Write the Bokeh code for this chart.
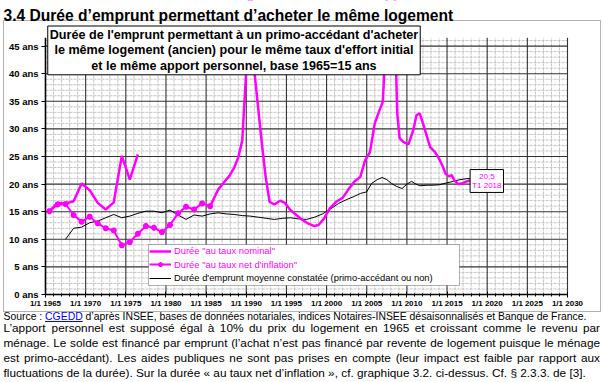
from bokeh.plotting import figure
from bokeh.models import (FixedTicker, Label, BoxAnnotation, Legend, LegendItem,
                          Range1d, ColumnDataSource)
from bokeh.embed import file_html
from bokeh.resources import INLINE

NAN = float("nan")

# ---------------- data (decimal years, durations in years) ----------------
nominal_years = [1965.5, 1966.5, 1967.5, 1968.5, 1969.5, 1970.5, 1971.5, 1972.5,
                 1973.5, 1974.5, 1975.5, 1976.5, 1981.0,
                 1985.5, 1986.5, 1987.2, 1987.9, 1988.5, 1989.0, 1989.5, 1990.0,
                 1990.5, 1991.0, 1991.9, 1992.4, 1992.9, 1993.5, 1994.2, 1994.8,
                 1995.5, 1996.3, 1997.0, 1997.8, 1998.5, 1999.0, 1999.7, 2000.4,
                 2001.2, 2002.0, 2002.7, 2003.5, 2004.2, 2004.8, 2005.4, 2006.0,
                 2006.6, 2007.0, 2007.2, 2007.6, 2008.4, 2008.66, 2008.8, 2009.1,
                 2009.6, 2010.2, 2010.8, 2011.2, 2011.6, 2012.0, 2012.5, 2012.9,
                 2013.5, 2013.9, 2014.5, 2014.8, 2015.2, 2015.6, 2015.9, 2016.4,
                 2016.8, 2017.3, 2017.7, 2018.1]
nominal_values = [15.1, 16.6, 16.5, 16.9, 20.1, 18.9, 16.6, 15.4,
                  16.7, 25.1, 20.8, 25.4, NAN,
                  16.0, 19.0, 20.3, 21.5, 23.0, 24.8, 27.9, 40.6,
                  60.0, 40.6, 27.9, 21.5, 16.8, 16.3, 17.0, 16.6,
                  15.3, 14.3, 13.5, 12.8, 12.4, 12.6, 13.8, 15.6,
                  16.8, 17.5, 19.0, 20.5, 21.3, 24.3, 25.8, 31.0,
                  33.4, 34.9, 40.6, 60.0, 60.0, 40.6, 32.8, 28.3,
                  27.6, 27.2, 29.8, 32.5, 32.8, 31.0, 28.6, 26.7,
                  25.8, 24.9, 23.1, 21.9, 21.4, 21.6, 20.7, 20.0,
                  20.1, 20.4, 20.6, 20.5]

net_years = [1965.5, 1966.5, 1967.5, 1968.5, 1969.5, 1970.5, 1971.5, 1972.5,
             1973.5, 1974.5, 1975.5, 1976.5, 1977.5, 1978.5, 1979.5, 1980.5,
             1981.5, 1982.5, 1983.5, 1984.5, 1985.5]
net_values = [15.1, 16.3, 16.4, 14.4, 13.2, 14.1, 12.9, 12.0,
              11.6, 8.9, 9.5, 11.0, 12.4, 12.1, 11.3, 12.6,
              14.7, 15.9, 15.4, 16.5, 16.0]

avg_years = [1967.5, 1968.5, 1969.5, 1970.5, 1971.5, 1972.5, 1973.5, 1974.5,
             1975.5, 1976.5, 1977.5, 1978.5, 1979.5, 1980.5, 1981.5, 1982.5,
             1983.5, 1984.5, 1985.5, 1986.5, 1987.5, 1988.5, 1989.5, 1990.5,
             1991.5, 1992.5, 1993.5, 1994.5, 1995.5, 1996.5, 1997.5, 1998.5,
             1999.5, 2000.5, 2001.5, 2002.5, 2003.5, 2004.2, 2005.0, 2005.6,
             2006.3, 2006.9, 2007.5, 2008.1, 2008.7, 2009.4, 2010.0, 2010.6,
             2011.0, 2011.6, 2012.5, 2013.3, 2014.1, 2014.9, 2015.8, 2016.6,
             2017.5, 2018.0]
avg_values = [10.0, 12.0, 12.2, 13.0, 13.3, 13.9, 14.5, 13.9,
              14.2, 14.7, 15.1, 15.1, 14.8, 15.3, 14.4, 13.6,
              14.4, 14.2, 14.6, 14.8, 14.6, 14.5, 14.3, 14.2,
              14.0, 13.8, 13.6, 13.8, 13.9, 13.7, 13.6, 14.0,
              14.6, 15.5, 16.5, 17.2, 17.8, 18.3, 18.6, 20.1,
              20.8, 21.2, 20.8, 20.1, 19.6, 19.2, 20.0, 20.5,
              20.1, 19.7, 19.8, 19.8, 19.9, 20.2, 20.5, 20.8,
              21.0, 21.0]

x_tick_years = [1965, 1970, 1975, 1980, 1985, 1990, 1995, 2000, 2005, 2010,
                2015, 2020, 2025, 2030]
x_tick_labels = ["1/1 1965", "1/1 1970", "1/1 1975", "1/1 1980", "1/1 1985",
                 "1/1 1990", "1/1 1995", "1/1 2000", "1/1 2005", "1/1 2010",
                 "1/1 2015", "1/1 2020", "1/1 2025", "1/1 2030"]
y_tick_values = [0, 5, 10, 15, 20, 25, 30, 35, 40, 45]
y_tick_labels = ["0 ans", "5 ans", "10 ans", "15 ans", "20 ans", "25 ans",
                 "30 ans", "35 ans", "40 ans", "45 ans"]
series_names = ['Durée "au taux nominal"', 'Durée "au taux net d\'inflation"',
                "Durée d'emprunt moyenne constatée (primo-accédant ou non)"]
last_value_text = "20,5\nT1 2018"

# ---------------- layout constants (page pixels) ----------------
W, H = 604, 382
FL, FT, FR, FB = 45, 37, 567, 294          # plot-area edges on the page
X_MIN, X_MAX = 1965, 2030
PX_PER_YEAR = (FR - FL) / (X_MAX - X_MIN)
PX_PER_UNIT = 5.52
Y_TOP = (FB - FT) / PX_PER_UNIT
MAGENTA = "#FF00FF"
FONT = "Liberation Sans"


def sy(py):
    """page y (down) -> screen y measured from canvas bottom"""
    return H - py


p = figure(width=W, height=H, output_backend="svg", toolbar_location=None,
           title=None,
           x_range=Range1d(X_MIN - FL / PX_PER_YEAR, X_MAX + (W - FR) / PX_PER_YEAR),
           y_range=Range1d(-(H - FB) / PX_PER_UNIT, FB / PX_PER_UNIT),
           min_border=0, min_border_left=0, min_border_right=0,
           min_border_top=0, min_border_bottom=0)
p.outline_line_color = None
p.background_fill_color = "white"
p.border_fill_color = "white"
p.xgrid.visible = False
p.ygrid.visible = False

# ---------------- grid (drawn only over the plot area) ----------------
minor_x = [y for y in range(X_MIN + 1, X_MAX) if y % 5]
major_x = [y for y in x_tick_years if y > X_MIN]
minor_y = [v for v in range(1, int(Y_TOP) + 1) if v % 5]
major_y = [v for v in y_tick_values if v > 0]
p.segment(x0=minor_x, y0=[0] * len(minor_x), x1=minor_x, y1=[Y_TOP] * len(minor_x),
          line_color="#c4c4c4", line_width=1, line_dash="3 1", level="underlay")
p.segment(x0=[X_MIN] * len(minor_y), y0=minor_y, x1=[X_MAX] * len(minor_y), y1=minor_y,
          line_color="#c4c4c4", line_width=1, line_dash="3 1", level="underlay")
p.segment(x0=major_x, y0=[0] * len(major_x), x1=major_x, y1=[Y_TOP] * len(major_x),
          line_color="#333333", line_width=1.1, level="underlay")
p.segment(x0=[X_MIN] * len(major_y), y0=major_y, x1=[X_MAX] * len(major_y), y1=major_y,
          line_color="#333333", line_width=1.1, level="underlay")

# ---------------- axes (fixed inside the canvas) ----------------
xa = p.xaxis[0]
ya = p.yaxis[0]
xa.fixed_location = 0
ya.fixed_location = X_MIN
xa.bounds = (X_MIN, X_MAX)
ya.bounds = (0, Y_TOP)
xa.ticker = FixedTicker(ticks=x_tick_years, minor_ticks=list(range(X_MIN, X_MAX + 1)))
ya.ticker = FixedTicker(ticks=y_tick_values, minor_ticks=[])
xa.major_label_overrides = dict(zip(x_tick_years, x_tick_labels))
ya.major_label_overrides = dict(zip(y_tick_values, y_tick_labels))
for ax in (xa, ya):
    ax.axis_line_color = "black"
    ax.axis_line_width = 1.6
    ax.major_tick_line_color = "black"
    ax.major_label_text_font = FONT
    ax.major_label_text_font_style = "bold"
    ax.major_label_text_color = "black"
xa.major_tick_in = 3
xa.major_tick_out = 3
xa.minor_tick_in = 1
xa.minor_tick_out = 2
xa.minor_tick_line_color = "black"
xa.major_label_text_font_size = "8px"
xa.major_label_standoff = 1
ya.major_tick_in = 0
ya.major_tick_out = 4
ya.minor_tick_line_color = None
ya.major_label_text_font_size = "9.5px"
ya.major_label_standoff = 3

# ---------------- series ----------------
r_avg = p.line(avg_years, avg_values, line_color="black", line_width=1)
r_nom = p.line(source=ColumnDataSource(dict(x=nominal_years, y=nominal_values)),
               x="x", y="y", line_color=MAGENTA, line_width=2.5)
r_net = p.line(net_years, net_values, line_color=MAGENTA, line_width=2)
r_net_pts = p.scatter(net_years, net_values, marker="asterisk", size=6,
                      line_color=MAGENTA, line_width=2)


def screen_box(left, right, top, bottom, **kw):
    return BoxAnnotation(left=left, right=right, top=sy(top), bottom=sy(bottom),
                         left_units="screen", right_units="screen",
                         top_units="screen", bottom_units="screen", **kw)


# white band above the plot area (hides whatever rises above the top of the scale)
p.add_layout(screen_box(0, W, 0, FT, fill_color="white", fill_alpha=1, line_color=None))

# ---------------- legend ----------------
p.add_layout(screen_box(148, 459, 244, 285, fill_color="white", fill_alpha=1,
                        line_color="black", line_width=1))
legend_specs = [([r_nom], series_names[0], MAGENTA, 250.7),
                ([r_net, r_net_pts], series_names[1], MAGENTA, 264.3),
                ([r_avg], series_names[2], "black", 277.7)]
for rends, name, col, cy in legend_specs:
    lg = Legend(items=[LegendItem(label=name, renderers=rends)],
                location=(149, sy(cy + 6)),
                border_line_color=None, background_fill_alpha=0,
                padding=0, spacing=0, margin=0,
                glyph_width=22, glyph_height=12, label_height=12,
                label_standoff=3, label_text_font=FONT,
                label_text_font_size="9.4px", label_text_color=col)
    p.add_layout(lg, "center")

# ---------------- last value call-out ----------------
p.add_layout(Label(x=486.3, y=sy(180.5), x_units="screen", y_units="screen",
                   text=last_value_text, text_align="center", text_baseline="middle",
                   text_font=FONT, text_font_size="8px", text_color=MAGENTA,
                   text_line_height=1.1, background_fill_color="white",
                   border_line_color="black", border_line_width=1, padding=2))

# ---------------- outer chart frame ----------------
p.add_layout(screen_box(3, 600, 20, 311, fill_alpha=0, line_color="black", line_width=1))

# ---------------- chart title box ----------------
p.add_layout(Label(x=233.5, y=sy(25.5), x_units="screen", y_units="screen",
                   text="Durée de l'emprunt permettant à un primo-accédant d'acheter\n"
                        "le même logement (ancien) pour le même taux d'effort initial\n"
                        "et le même apport personnel, base 1965=15 ans",
                   text_align="center", text_baseline="top",
                   text_font=FONT, text_font_style="bold", text_font_size="12.6px",
                   text_line_height=1.1, text_color="black",
                   background_fill_color="white", border_line_color="black",
                   border_line_width=1, padding=2))

# ---------------- page title ----------------
p.add_layout(Label(x=3, y=sy(14.5), x_units="screen", y_units="screen",
                   text="3.4 Durée d’emprunt permettant d’acheter le même logement",
                   text_align="left", text_baseline="alphabetic",
                   text_font=FONT, text_font_style="bold", text_font_size="15.6px",
                   text_color="black"))

# ---------------- footer ----------------
ARIAL = {" ": 278, "!": 278, '"': 355, "%": 889, "'": 191, "(": 333, ")": 333,
         ",": 278, "-": 333, ".": 278, "/": 278, ":": 278, ";": 278, "=": 584,
         "[": 278, "]": 278, "§": 556, "«": 556, "»": 556, "’": 222,
         "A": 667, "B": 667, "C": 722, "D": 722, "E": 667, "F": 611, "G": 778,
         "H": 722, "I": 278, "J": 500, "K": 667, "L": 556, "M": 833, "N": 722,
         "O": 778, "P": 667, "Q": 778, "R": 722, "S": 667, "T": 611, "U": 722,
         "V": 667, "W": 944, "X": 667, "Y": 667, "Z": 611,
         "c": 500, "f": 278, "i": 222, "j": 222, "k": 500, "l": 222, "m": 833,
         "r": 333, "s": 500, "t": 278, "v": 500, "w": 722, "x": 500, "y": 500,
         "z": 500, "ç": 500}


def tw(s, size):
    return sum(ARIAL.get(c, 556) for c in s) * size / 1000.0


def add_text(txt, px, py, size, color="black", align="left"):
    p.add_layout(Label(x=px, y=sy(py), x_units="screen", y_units="screen",
                       text=txt, text_align=align, text_baseline="middle",
                       text_font=FONT, text_font_size="%gpx" % size,
                       text_color=color))


X0, X1 = 3, 599.5
SRC = 10.4
part1 = "Source :"
part2 = "CGEDD"
part3 = "d’après INSEE, bases de données notariales, indices Notaires-INSEE désaisonnalisés et Banque de France."
x2 = X0 + tw(part1 + " ", SRC)
x3 = x2 + tw(part2 + " ", SRC)
add_text(part1, X0, 316, SRC)
add_text(part2, x2, 316, SRC, color="#0000FF")
add_text(part3, x3, 316, SRC)
p.add_layout(screen_box(x2, x2 + tw(part2, SRC), 320.6, 321.5,
                        fill_color="#0000FF", fill_alpha=1, line_color=None))

BODY = 11.8
body_lines = [
    "L’apport personnel est supposé égal à 10% du prix du logement en 1965 et croissant comme le revenu par",
    "ménage.  Le solde est financé par emprunt (l’achat n’est pas financé par revente de logement puisque le ménage",
    "est primo-accédant).  Les aides publiques ne sont pas prises en compte (leur impact est faible par rapport aux",
    "fluctuations de la durée).  Sur la durée « au taux net d’inflation », cf. graphique 3.2. ci-dessus.  Cf. § 2.3.3. de [3].",
]
body_y = [327.5, 342.5, 357.5, 372.5]


def justified(line, py, size, chunk=1):
    words = line.split()
    ww = [tw(w, size) for w in words]
    gap = (X1 - X0 - sum(ww)) / (len(words) - 1)
    i = 0
    x = X0
    while i < len(words):
        grp = words[i:i + chunk]
        if i + chunk >= len(words):
            add_text(" ".join(grp), X1, py, size, align="right")
        else:
            add_text(" ".join(grp), x, py, size)
        x += sum(ww[i:i + chunk]) + gap * len(grp)
        i += chunk


for k, (ln, py) in enumerate(zip(body_lines, body_y)):
    if k < 3:
        justified(ln, py, BODY)
    else:
        add_text(ln, X0, py, BODY)

open("out.html", "w").write(file_html(p, INLINE))
